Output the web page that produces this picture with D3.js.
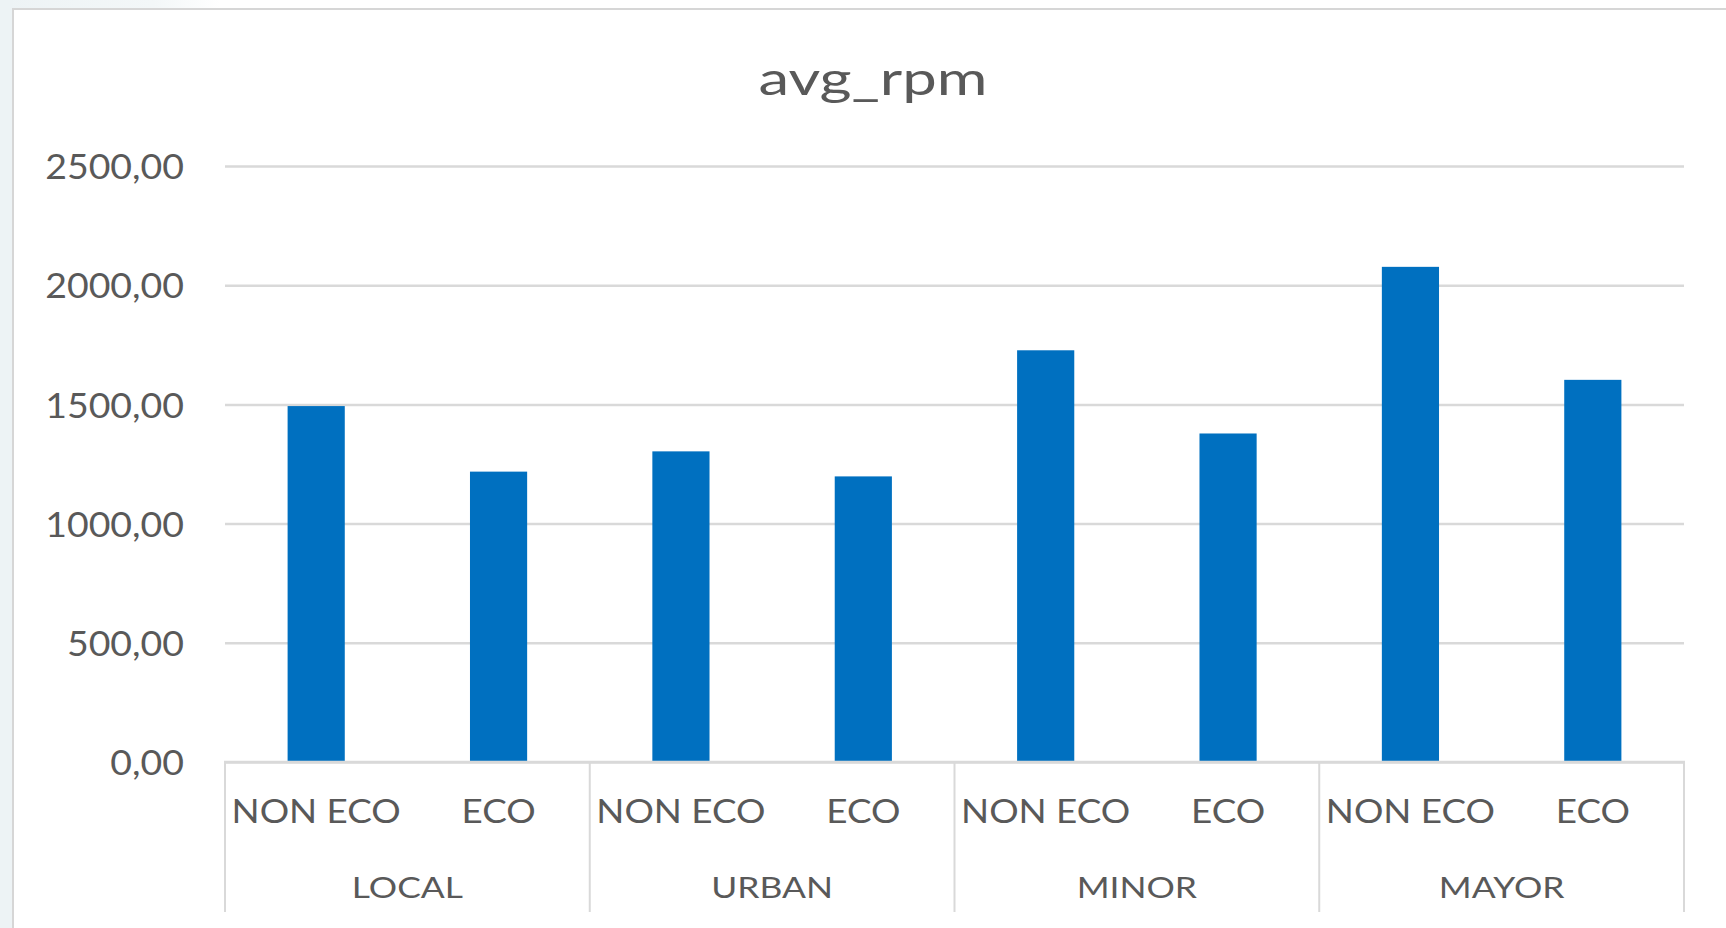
<!DOCTYPE html>
<html>
<head>
<meta charset="utf-8">
<script src="https://cdn.jsdelivr.net/npm/d3@7"></script>
<style>
  html, body { margin: 0; padding: 0; background: #ffffff; overflow: hidden; }
  svg text { font-family: Lato, "Open Sans", sans-serif; fill: #595959; }
</style>
</head>
<body>
<svg id="chart" width="1726" height="928"></svg>
<script>
// ---- data ----
const chartTitle = "avg_rpm";
const groups = ["LOCAL", "URBAN", "MINOR", "MAYOR"];
const modes = ["NON ECO", "ECO"];
const nonEcoValues = [1493, 1303, 1727, 2077];
const ecoValues = [1218, 1198, 1378, 1603];
const yTicks = [0, 500, 1000, 1500, 2000, 2500];

const rows = groups.flatMap((g, i) => [
  { group: g, mode: "NON ECO", value: nonEcoValues[i] },
  { group: g, mode: "ECO", value: ecoValues[i] }
]);

// ---- layout ----
const W = 1726, H = 928;
const plot = { left: 225, right: 1684, top: 166, bottom: 762 };
const axisDepth = 150;           // height of the two-level category axis dividers
const barColor = "#0070c0";
const gridColor = "#d9d9d9";

const svg = d3.select("#chart");

// window backdrop around the chart frame
const defs = svg.append("defs");
const grad = defs.append("linearGradient").attr("id", "topFade")
  .attr("x1", "0").attr("x2", "1").attr("y1", "0").attr("y2", "0");
grad.append("stop").attr("offset", "0").attr("stop-color", "#edf3f5");
grad.append("stop").attr("offset", "0.7").attr("stop-color", "#f3f7f8");
grad.append("stop").attr("offset", "1").attr("stop-color", "#ffffff");
svg.append("rect").attr("x", 0).attr("y", 0).attr("width", W).attr("height", H).attr("fill", "#ffffff");
svg.append("rect").attr("x", 0).attr("y", 0).attr("width", 220).attr("height", 10).attr("fill", "url(#topFade)");
svg.append("rect").attr("x", 0).attr("y", 0).attr("width", 13).attr("height", H).attr("fill", "#edf3f5");

// chart area frame
svg.append("rect")
  .attr("x", 13).attr("y", 9)
  .attr("width", W + 20).attr("height", H + 20)
  .attr("fill", "#ffffff")
  .attr("stroke", "#d6d6d6").attr("stroke-width", 2);

// ---- scales ----
const y = d3.scaleLinear().domain([0, 2500]).range([plot.bottom, plot.top]);
const x0 = d3.scaleBand().domain(groups).range([plot.left, plot.right]).padding(0);
const gap = 2.19 / 3.19;        // bar gap ratio
const x1 = d3.scaleBand().domain(modes).range([0, x0.bandwidth()])
  .paddingInner(gap).paddingOuter(gap / 2);

// helper: horizontally stretched text anchored at (cx, cy)
function label(parent, cx, cy, text, size, sx, anchor) {
  const g = parent.append("g").attr("transform", `translate(${cx},${cy})`);
  return g.append("text")
    .attr("transform", `scale(${sx},1)`)
    .attr("text-anchor", anchor || "middle")
    .attr("font-size", size)
    .text(text);
}

// ---- title ----
label(svg, 873, 95, chartTitle, 46, 1.34);

// ---- value axis with gridlines ----
const fmt = d3.formatLocale({ decimal: ",", thousands: ".", grouping: [3], currency: ["", ""] }).format(".2f");
const yAxis = svg.append("g")
  .attr("transform", `translate(${plot.left},0)`)
  .call(d3.axisLeft(y).tickValues(yTicks).tickFormat(fmt)
    .tickSize(-(plot.right - plot.left)).tickPadding(41));
yAxis.select(".domain").remove();
yAxis.selectAll(".tick line").attr("stroke", gridColor).attr("stroke-width", 2.5);
const tickSx = 1.07;
yAxis.selectAll(".tick text")
  .attr("font-size", 35)
  .attr("fill", "#595959")
  .attr("font-family", "Lato, 'Open Sans', sans-serif")
  .attr("x", -41 / tickSx)
  .attr("dy", "0.36em")
  .attr("transform", `scale(${tickSx},1)`);

// ---- bars ----
svg.append("g").selectAll("rect")
  .data(rows)
  .join("rect")
  .attr("x", d => x0(d.group) + x1(d.mode))
  .attr("y", d => y(d.value))
  .attr("width", x1.bandwidth())
  .attr("height", d => y(0) - y(d.value))
  .attr("fill", barColor);

// ---- category axis (two levels) ----
const xAxis = svg.append("g");
xAxis.append("line")
  .attr("x1", plot.left - 1).attr("x2", plot.right + 1)
  .attr("y1", y(0)).attr("y2", y(0))
  .attr("stroke", gridColor).attr("stroke-width", 2.5);

const dividers = groups.map(g => x0(g)).concat([x0.range()[1]]);
xAxis.selectAll("line.divider")
  .data(dividers)
  .join("line")
  .attr("class", "divider")
  .attr("x1", d => d).attr("x2", d => d)
  .attr("y1", y(0)).attr("y2", y(0) + axisDepth)
  .attr("stroke", gridColor).attr("stroke-width", 2);

rows.forEach(d => {
  label(xAxis, x0(d.group) + x1(d.mode) + x1.bandwidth() / 2, 823, d.mode, 32, 1.15);
});
groups.forEach(g => {
  label(xAxis, x0(g) + x0.bandwidth() / 2, 898, g, 29.5, 1.2);
});
</script>
</body>
</html>
